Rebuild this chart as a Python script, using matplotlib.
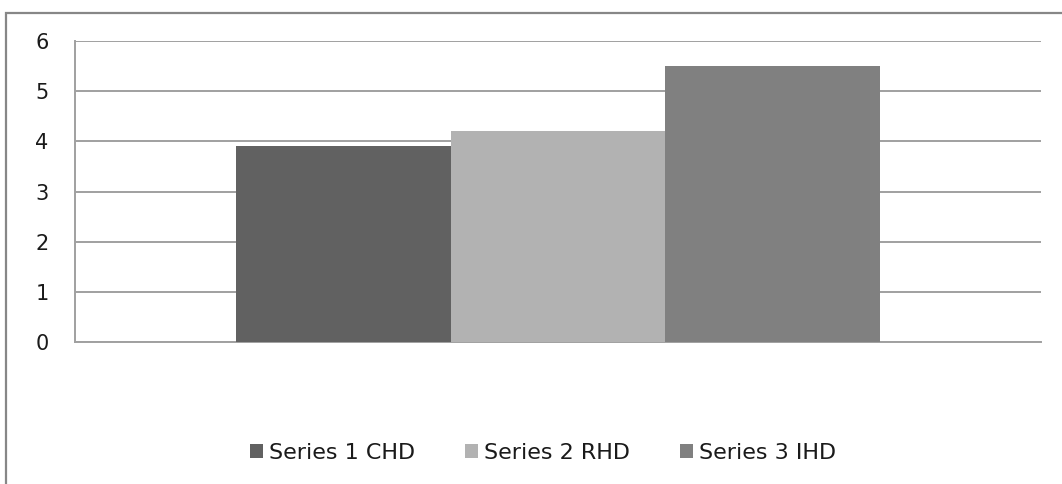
import matplotlib
matplotlib.use("Agg")
import matplotlib.pyplot as plt
from matplotlib.patches import Rectangle

series_names = ["Series 1 CHD", "Series 2 RHD", "Series 3 IHD"]
series_values = [3.9, 4.2, 5.5]
series_colors = ["#616161", "#b2b2b2", "#808080"]
y_ticks = [0, 1, 2, 3, 4, 5, 6]

plt.rcParams["font.family"] = ["DejaVu Sans"]

W, H = 1062, 484
fig = plt.figure(figsize=(W / 100, H / 100), dpi=100)

# outer chart border (cropped on the right and bottom)
fig.add_artist(Rectangle((5.5 / W, -0.1), 1.2, (H - 12.5) / H + 0.1,
                         transform=fig.transFigure, fill=False,
                         edgecolor="#878787", linewidth=1.6))

left, right, top, bottom = 75, 1041, 41, 342
ax = fig.add_axes([left / W, 1 - bottom / H, (right - left) / W, (bottom - top) / H])

bar_w = 0.2222
offsets = [-bar_w, 0.0, bar_w]
for name, val, col, off in zip(series_names, series_values, series_colors, offsets):
    ax.bar(off, val, width=bar_w, color=col, label=name, zorder=3, linewidth=0)

ax.set_xlim(-0.5, 0.5)
ax.set_ylim(0, 6)
ax.set_yticks(y_ticks)
ax.set_yticklabels([str(t) for t in y_ticks], fontsize=15, color="#1a1a1a")
ax.set_xticks([])
ax.tick_params(axis="y", length=0, pad=19)
ax.yaxis.grid(True, color="#a0a0a0", linewidth=1.4, zorder=0)
for s in ("top", "right"):
    ax.spines[s].set_visible(False)
ax.spines["left"].set_color("#a0a0a0")
ax.spines["left"].set_linewidth(1.4)
ax.spines["bottom"].set_color("#a0a0a0")
ax.spines["bottom"].set_linewidth(1.4)

handles, labels = ax.get_legend_handles_labels()
fig.legend(handles, labels, loc="center", bbox_to_anchor=(543 / W, 1 - 453 / H),
           ncol=3, frameon=False, fontsize=16, handlelength=0.59,
           handleheight=0.59, handletextpad=0.27, columnspacing=2.25,
           borderpad=0, borderaxespad=0, labelcolor="#1a1a1a")

fig.savefig("out.png", dpi=100, facecolor="white")
